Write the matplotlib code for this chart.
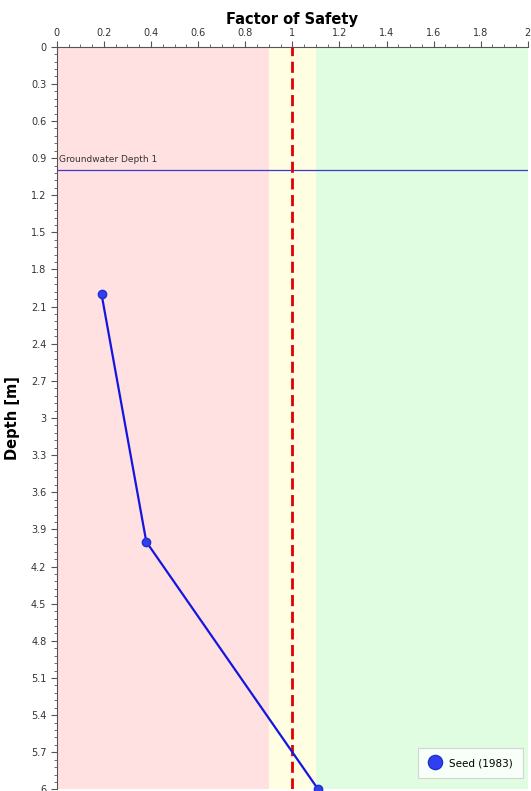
import numpy as np
import matplotlib.pyplot as plt
from matplotlib.ticker import MultipleLocator

# Data
fos = [0.19, 0.38, 1.11]
depth = [2.0, 4.0, 6.0]
series_name = "Seed (1983)"
gw_depth = 1.0
gw_label = "Groundwater Depth 1"
zones = [(0.0, 0.9, "#ffe1e1"), (0.9, 1.1, "#fffde2"), (1.1, 2.0, "#e1fde1")]

fig = plt.figure(figsize=(5.31, 7.91), dpi=100)
ax = fig.add_axes([0.107, 0.002, 0.887, 0.939])

for x0, x1, c in zones:
    ax.axvspan(x0, x1, color=c, lw=0, zorder=0)

ax.axhline(gw_depth, color="#3a3ad0", lw=0.9, zorder=2)
ax.text(0.01, gw_depth - 0.05, gw_label, fontsize=6.5, color="#333333",
        va="bottom", ha="left", zorder=3)

ax.axvline(1.0, color="#e00000", lw=2, ls=(0, (4, 2)), zorder=3)

ax.plot(fos, depth, color="#1515e0", lw=1.6, marker="o", ms=6,
        mfc="#3040f0", mec="#2030d0", label=series_name, zorder=4, clip_on=False)

ax.set_xlim(0, 2)
ax.set_ylim(6, 0)
ax.xaxis.tick_top()
ax.xaxis.set_label_position("top")
ax.xaxis.set_minor_locator(MultipleLocator(0.05))
ax.yaxis.set_minor_locator(MultipleLocator(0.06))
ax.set_xticks(np.arange(0, 2.01, 0.2))
ax.set_xticklabels(["0", "0.2", "0.4", "0.6", "0.8", "1", "1.2", "1.4", "1.6", "1.8", "2"])
yt = np.round(np.arange(0, 6.01, 0.3), 1)
ax.set_yticks(yt)
ax.set_yticklabels(["%g" % v for v in yt])
ax.tick_params(axis="both", which="major", labelsize=7, length=4, color="#555555", labelcolor="#333333")
ax.tick_params(axis="both", which="minor", length=2, color="#555555")
ax.tick_params(axis="x", which="both", top=True, bottom=False, pad=2)

ax.set_xlabel("Factor of Safety", fontsize=10.5, fontweight="bold", labelpad=3)
ax.set_ylabel("Depth [m]", fontsize=10.5, fontweight="bold", labelpad=8)

for s in ["right", "bottom"]:
    ax.spines[s].set_visible(False)
ax.spines["left"].set_color("#555555")
ax.spines["top"].set_color("#555555")

leg = ax.legend(loc="lower right", bbox_to_anchor=(0.995, 0.012), fontsize=7.5,
                frameon=True, fancybox=False, handlelength=1.2, borderpad=1.0,
                markerscale=1.7, borderaxespad=0.2)
leg.get_frame().set_edgecolor("#cccccc")
leg.get_frame().set_linewidth(0.8)
for h in leg.legend_handles:
    h.set_linestyle("none")

fig.savefig("out.png", dpi=100)
